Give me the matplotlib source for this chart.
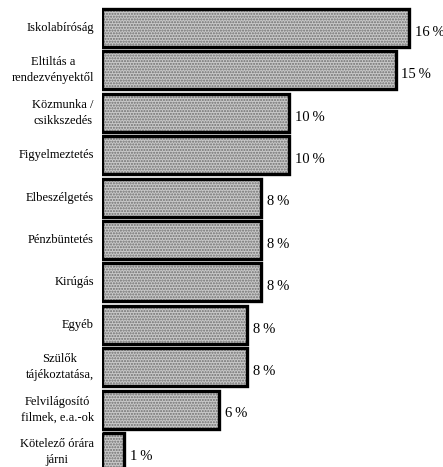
import matplotlib
matplotlib.use('Agg')
import matplotlib.pyplot as plt
import numpy as np

categories = ['Iskolabíróság', 'Eltiltás a\nrendezvényektől', 'Közmunka /\ncsikkszedés',
              'Figyelmeztetés', 'Elbeszélgetés', 'Pénzbüntetés', 'Kirúgás', 'Egyéb',
              'Szülők\ntájékoztatása,', 'Felvilágosító\nfilmek, e.a.-ok', 'Kötelező órára\njárni']
# bar lengths as drawn in the scan (roughly), and the printed labels
values = [16.0, 15.3, 9.75, 9.75, 8.3, 8.3, 8.3, 7.55, 7.55, 6.1, 1.15]
value_labels = ['16\u2009%', '15\u2009%', '10\u2009%', '10\u2009%', '8\u2009%', '8\u2009%',
                '8\u2009%', '8\u2009%', '8\u2009%', '6\u2009%', '1\u2009%']

plt.rcParams['font.family'] = ['Liberation Serif', 'DejaVu Serif']

W, H = 443, 467
fig = plt.figure(figsize=(W / 100, H / 100), dpi=100)
fig.patch.set_facecolor('white')

x0 = 102          # px where bars start
px_per = 19.19    # px per percent
y_first = 28      # px centre of the first bar
step = 42.4       # px between bars

ax = fig.add_axes([x0 / W, 0, 1 - x0 / W, 1])
ax.set_xlim(0, (W - x0) / px_per)
ax.set_ylim((H - y_first) / step, -y_first / step)
ax.axis('off')

y = np.arange(len(categories))
# stippled fill
ax.barh(y, values, height=0.9, color='#c9c9c9', edgecolor='#6e6e6e',
        hatch='......', linewidth=0)
# black outline
ax.barh(y, values, height=0.9, fill=False, edgecolor='black', linewidth=2.4)

for yi, v, lab in zip(y, values, value_labels):
    ax.text(v + 0.3, yi + 0.1, lab, ha='left', va='center', fontsize=10.5)

for yi, cat in zip(y, categories):
    fig.text((x0 - 8) / W, 1 - (y_first + yi * step) / H, cat, ha='right', va='center',
             multialignment='center', fontsize=9, linespacing=1.45)

fig.savefig('out.png', dpi=100)
